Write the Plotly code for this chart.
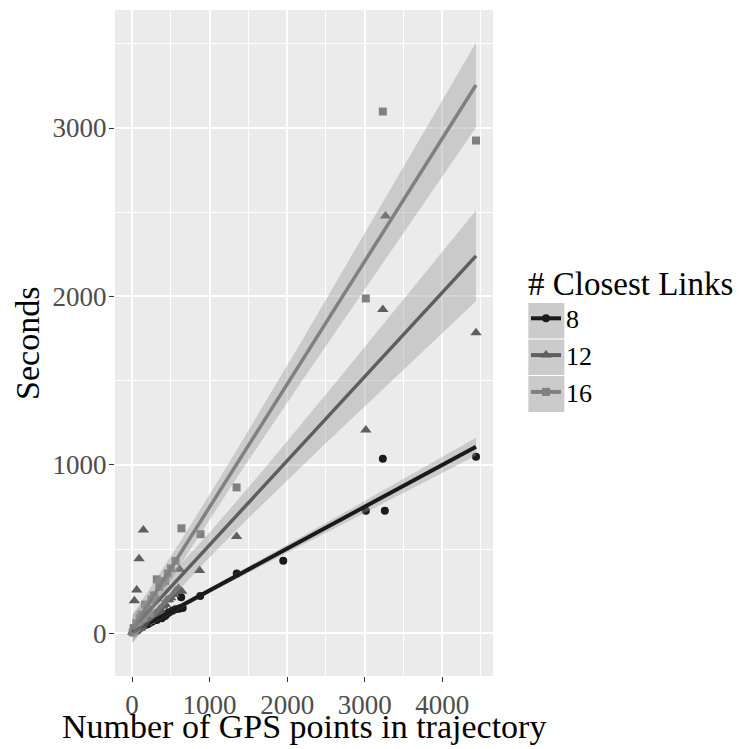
import numpy as np
import plotly.graph_objects as go

# ---- data (points near the origin are estimated; many overlap) ----
series_names = ["8", "12", "16"]

x8 = [8, 15, 20, 39, 50, 60, 73, 95, 110, 125, 146, 168, 190, 205, 223, 250, 270, 290, 319, 331, 350,
      365, 383, 400, 426, 440, 460, 480, 520, 560, 602, 620, 633, 654, 879, 1350, 1950, 3015, 3234, 3260, 4436]
y8 = [4, 9, 8, 20, 18, 22, 18, 30, 33, 37, 43, 49, 53, 55, 60, 67, 72, 78, 79, 123, 92,
      97, 89, 106, 103, 111, 118, 124, 134, 143, 145, 148, 214, 150, 221, 355, 430, 728, 1036, 728, 1048]

x12 = [8, 20, 30, 39, 50, 60, 90, 100, 130, 146, 168, 190, 223, 240, 260, 275, 300, 319, 340, 360, 383,
       400, 420, 430, 448, 470, 500, 540, 560, 598, 611, 640, 870, 1348, 3015, 3234, 3269, 4436]
y12 = [6, 12, 193, 25, 20, 257, 442, 30, 40, 613, 99, 60, 70, 85, 95, 99, 110, 208, 130, 145, 120,
       160, 175, 170, 198, 200, 210, 230, 250, 267, 380, 250, 372, 575, 1207, 1923, 2477, 1784]

x16 = [8, 20, 39, 55, 73, 100, 120, 146, 168, 190, 223, 250, 280, 319, 350, 380, 426, 460, 500, 560,
       637, 883, 1348, 3015, 3234, 4436]
y16 = [6, 30, 30, 60, 50, 90, 110, 90, 170, 160, 120, 200, 225, 320, 275, 300, 310, 355, 385, 430,
       623, 588, 866, 1988, 3098, 2926]

x_ticks = [0, 1000, 2000, 3000, 4000]
y_ticks = [0, 1000, 2000, 3000]

# ---- styling ----
colors = ["#1A1A1A", "#5E5E5E", "#808080"]
symbols = ["circle", "triangle-up", "square"]
msizes = [8, 10, 8]
ribbon_fill = "rgba(153,153,153,0.4)"
FONT = "Liberation Serif, Times New Roman, serif"

OFF = 8  # page body margin offset
W, H = 741 - OFF, 749 - OFF
# panel in screen coords: left 115, right 492.7, top 10, bottom 676
ML = 115 - OFF
MT = 10 - OFF
MR = W - (492.7 - OFF)
MB = H - (676 - OFF)


def t975(df):
    z = 1.959964
    g1 = (z**3 + z) / 4
    g2 = (5 * z**5 + 16 * z**3 + 3 * z) / 96
    g3 = (3 * z**7 + 19 * z**5 + 17 * z**3 - 15 * z) / 384
    return z + g1 / df + g2 / df**2 + g3 / df**3


def lm_smooth(x, y, n=80):
    x = np.asarray(x, float)
    y = np.asarray(y, float)
    b, a = np.polyfit(x, y, 1)
    res = y - (a + b * x)
    dof = len(x) - 2
    s = np.sqrt(np.sum(res**2) / dof)
    xbar = x.mean()
    sxx = np.sum((x - xbar) ** 2)
    xs = np.linspace(x.min(), x.max(), n)
    fit = a + b * xs
    se = s * np.sqrt(1 / len(x) + (xs - xbar) ** 2 / sxx)
    t = t975(dof)
    return xs, fit, fit - t * se, fit + t * se


fig = go.Figure()
data = [(x8, y8), (x12, y12), (x16, y16)]

# points
for i, (xx, yy) in enumerate(data):
    fig.add_trace(go.Scatter(
        x=xx, y=yy, mode="markers", showlegend=False, hoverinfo="skip",
        marker=dict(symbol=symbols[i], size=msizes[i], color=colors[i], line=dict(width=0)),
    ))

# smooths (ribbon + line), linear model with 95% confidence band
for i, (xx, yy) in enumerate(data):
    xs, fit, lo, hi = lm_smooth(xx, yy)
    fig.add_trace(go.Scatter(
        x=np.concatenate([xs, xs[::-1]]), y=np.concatenate([hi, lo[::-1]]),
        mode="lines", fill="toself", fillcolor=ribbon_fill, line=dict(width=0),
        showlegend=False, hoverinfo="skip",
    ))
    fig.add_trace(go.Scatter(
        x=xs, y=fit, mode="lines", line=dict(color=colors[i], width=4 if i == 0 else 3.5),
        showlegend=False, hoverinfo="skip",
    ))

# legend entries
for i in range(3):
    fig.add_trace(go.Scatter(
        x=[None], y=[None], mode="lines+markers", name=series_names[i],
        line=dict(color=colors[i], width=4),
        marker=dict(symbol=symbols[i], size=msizes[i], color=colors[i]),
    ))

pw = W - ML - MR
ph = H - MT - MB


def sx(px):  # screen x -> paper
    return (px - OFF - ML) / pw


def sy(py):  # screen y -> paper
    return (H - MB - (py - OFF)) / ph


def cx(px):  # screen x -> container fraction
    return (px - OFF) / W


def cy(py):  # screen y -> container fraction
    return 1 - (py - OFF) / H


# grey key backgrounds behind legend symbols
shapes = []
for top, bot in [(303, 338.5), (339.5, 375), (376, 412)]:
    shapes.append(dict(
        type="rect", xref="paper", yref="paper",
        x0=sx(528), x1=sx(564), y0=sy(bot), y1=sy(top),
        fillcolor="#CBCBCB", line=dict(width=0), layer="below",
    ))

axis_common = dict(
    showgrid=True, gridcolor="white", gridwidth=1.5, zeroline=False,
    ticks="outside", ticklen=5, tickwidth=1.4, tickcolor="#333333",
    tickfont=dict(family=FONT, size=27, color="#4D4D4D"),
    showline=False, mirror=False, automargin=False,
)

annotations = [
    dict(text="Number of GPS points in trajectory", xref="paper", yref="paper",
         x=0.5, y=sy(726), xanchor="center", yanchor="middle", showarrow=False,
         font=dict(family=FONT, size=34, color="black")),
    dict(text="Seconds", xref="paper", yref="paper", textangle=-90,
         x=sx(27), y=0.5, xanchor="center", yanchor="middle", showarrow=False,
         font=dict(family=FONT, size=34, color="black")),
]

fig.update_layout(
    width=W, height=H,
    margin=dict(l=ML, r=MR, t=MT, b=MB, autoexpand=False),
    paper_bgcolor="white", plot_bgcolor="#EBEBEB",
    font=dict(family=FONT, color="black"),
    xaxis=dict(
        range=[-220, 4655], tickmode="array", tickvals=x_ticks,
        ticktext=[str(v) for v in x_ticks],
        minor=dict(tickvals=[500, 1500, 2500, 3500, 4500], showgrid=True, gridcolor="white", gridwidth=0.7, ticks=""),
        **axis_common,
    ),
    yaxis=dict(
        range=[-254, 3701], tickmode="array", tickvals=y_ticks,
        ticktext=[str(v) for v in y_ticks], ticklabelstandoff=-3,
        minor=dict(tickvals=[500, 1500, 2500, 3500], showgrid=True, gridcolor="white", gridwidth=0.7, ticks=""),
        **axis_common,
    ),
    legend=dict(
        xref="container", yref="container",
        x=cx(526), y=cy(252), xanchor="left", yanchor="top",
        bgcolor="rgba(0,0,0,0)", borderwidth=0,
        title=dict(text="# Closest Links", font=dict(family=FONT, size=33, color="black")),
        font=dict(family=FONT, size=26, color="black"),
        itemsizing="trace", tracegroupgap=0,
    ),
    shapes=shapes,
    annotations=annotations,
)

fig.write_html("out.html")
